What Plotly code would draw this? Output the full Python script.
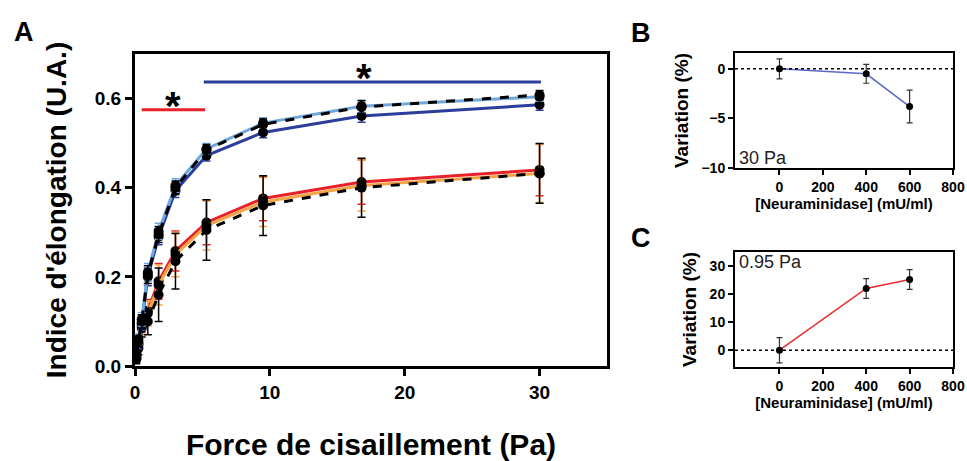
import plotly.graph_objects as go

# ---- data -------------------------------------------------------------
shear = [0.1, 0.25, 0.5, 0.95, 1.75, 3.0, 5.3, 9.5, 16.8, 30]

# blue group (control / 400 / 600 mU/ml)
blue_ctrl = [0.025, 0.055, 0.10, 0.205, 0.295, 0.400, 0.485, 0.542, 0.581, 0.608]
blue_ctrl_err = [0.01, 0.012, 0.015, 0.02, 0.018, 0.015, 0.012, 0.012, 0.014, 0.010]
blue_400 = [0.030, 0.060, 0.105, 0.210, 0.302, 0.405, 0.487, 0.545, 0.583, 0.604]
blue_400_err = [0.01, 0.012, 0.015, 0.02, 0.018, 0.015, 0.012, 0.012, 0.014, 0.010]
blue_600 = [0.025, 0.050, 0.095, 0.200, 0.290, 0.393, 0.472, 0.524, 0.561, 0.586]
blue_600_err = [0.01, 0.012, 0.015, 0.02, 0.018, 0.015, 0.012, 0.012, 0.014, 0.012]

# red group (control / 400 / 600 mU/ml)
red_ctrl = [0.015, 0.040, 0.085, 0.100, 0.160, 0.235, 0.305, 0.360, 0.400, 0.432]
red_ctrl_err = [0.01, 0.015, 0.02, 0.03, 0.060, 0.062, 0.068, 0.067, 0.066, 0.067]
red_400 = [0.018, 0.045, 0.090, 0.118, 0.182, 0.250, 0.315, 0.368, 0.405, 0.432]
red_400_err = [0.01, 0.013, 0.02, 0.028, 0.045, 0.050, 0.055, 0.055, 0.057, 0.065]
red_600 = [0.020, 0.050, 0.095, 0.124, 0.190, 0.258, 0.322, 0.376, 0.413, 0.440]
red_600_err = [0.01, 0.012, 0.02, 0.025, 0.040, 0.045, 0.050, 0.050, 0.050, 0.058]

# significance bars: [x0, x1], y
sig_red_x = [0.5, 5.2]
sig_red_y = 0.575
sig_blue_x = [5.1, 30.1]
sig_blue_y = 0.637

# panels B and C
neura = [0, 400, 600]
var_30 = [0, -0.5, -3.8]
var_30_err = [1.0, 0.95, 1.65]
var_095 = [0, 22.0, 25.2]
var_095_err = [4.5, 3.5, 3.5]

FONT = "Arial, Liberation Sans, sans-serif"
LIGHT_BLUE = "#6fa8dc"
DARK_BLUE = "#2c3e9c"
RED = "#e8202a"
ORANGE = "#f5a444"

W, H = 967, 461


def px(x):
    return x / W


def py(y):
    return 1 - y / H


fig = go.Figure()


def add_series(y, err, line_color, err_color, dash="solid"):
    fig.add_trace(
        go.Scatter(
            x=shear,
            y=y,
            mode="lines+markers",
            line=dict(color=line_color, width=3, dash=dash),
            marker=dict(color="black", size=10),
            error_y=dict(type="data", array=err, color=err_color, thickness=1.5, width=4),
            showlegend=False,
            xaxis="x",
            yaxis="y",
        )
    )


add_series(red_600, red_600_err, RED, RED)
add_series(red_400, red_400_err, ORANGE, ORANGE)
add_series(red_ctrl, red_ctrl_err, "black", "black", dash="dash")
add_series(blue_600, blue_600_err, DARK_BLUE, DARK_BLUE)
add_series(blue_400, blue_400_err, LIGHT_BLUE, LIGHT_BLUE)
add_series(blue_ctrl, blue_ctrl_err, "black", "black", dash="dash")

# significance lines
fig.add_trace(go.Scatter(x=sig_red_x, y=[sig_red_y] * 2, mode="lines",
                         line=dict(color=RED, width=3), showlegend=False))
fig.add_trace(go.Scatter(x=sig_blue_x, y=[sig_blue_y] * 2, mode="lines",
                         line=dict(color=DARK_BLUE, width=3), showlegend=False))
fig.add_annotation(x=sum(sig_red_x) / 2, y=sig_red_y, text="<b>*</b>", showarrow=False,
                   yanchor="bottom", font=dict(family=FONT, size=40, color="black"), yshift=-20)
fig.add_annotation(x=17, y=sig_blue_y, text="<b>*</b>", showarrow=False,
                   yanchor="bottom", font=dict(family=FONT, size=40, color="black"), yshift=-20)

# panel B
fig.add_trace(go.Scatter(
    x=neura, y=var_30, mode="lines+markers",
    line=dict(color="#5b68c8", width=1.5),
    marker=dict(color="black", size=7),
    error_y=dict(type="data", array=var_30_err, color="#333333", thickness=1.2, width=3),
    showlegend=False, xaxis="x2", yaxis="y2",
))
# panel C
fig.add_trace(go.Scatter(
    x=neura, y=var_095, mode="lines+markers",
    line=dict(color="#ee2a2a", width=1.5),
    marker=dict(color="black", size=7),
    error_y=dict(type="data", array=var_095_err, color="#333333", thickness=1.2, width=3),
    showlegend=False, xaxis="x3", yaxis="y3",
))

for xr, yr in (("x2", "y2"), ("x3", "y3")):
    fig.add_shape(type="line", xref=f"{xr} domain", yref=yr, x0=0, x1=1, y0=0, y1=0,
                  line=dict(color="black", width=1.5, dash="dot"))

fig.add_annotation(xref="x2 domain", yref="y2 domain", x=0.01, y=-0.02, text="30 Pa",
                   showarrow=False, xanchor="left", yanchor="bottom",
                   font=dict(family=FONT, size=18, color="#222222"))
fig.add_annotation(xref="x3 domain", yref="y3 domain", x=0.01, y=1.02, text="0.95 Pa",
                   showarrow=False, xanchor="left", yanchor="top",
                   font=dict(family=FONT, size=18, color="#222222"))

# panel letters
for txt, lx, ly in (("A", 24, 32), ("B", 641, 33), ("C", 641, 238)):
    fig.add_annotation(xref="paper", yref="paper", x=px(lx), y=py(ly),
                       xanchor="center", yanchor="middle",
                       text=f"<b>{txt}</b>", showarrow=False,
                       font=dict(family=FONT, size=27, color="black"))

axis_common = dict(showline=True, linecolor="black", mirror=True, ticks="outside",
                   tickcolor="black", showgrid=False, zeroline=False, automargin=False)
bold_big = dict(size=19, weight="bold")
bold_small = dict(size=14, weight="bold")

fig.update_layout(
    width=W,
    height=H,
    margin=dict(l=0, r=0, t=0, b=0),
    plot_bgcolor="white",
    paper_bgcolor="white",
    font=dict(family=FONT, color="black"),
    xaxis=dict(
        domain=[px(135), px(607)], range=[0, 35], tickvals=[0, 10, 20, 30],
        linewidth=3, tickwidth=3, ticklen=7, tickfont=bold_big,
        title=dict(text="<b>Force de cisaillement (Pa)</b>", font=dict(size=30), standoff=34),
        anchor="y", **axis_common,
    ),
    yaxis=dict(
        domain=[py(366), py(54)], range=[0, 0.7], tickvals=[0, 0.2, 0.4, 0.6],
        tickformat=".1f", linewidth=3, tickwidth=3, ticklen=7, tickfont=bold_big,
        title=dict(text="<b>Indice d'élongation (U.A.)</b>", font=dict(size=28), standoff=20),
        anchor="x", **axis_common,
    ),
    xaxis2=dict(
        domain=[px(735), px(953)], range=[-205, 800], tickvals=[0, 200, 400, 600, 800],
        linewidth=2, tickwidth=2, ticklen=5, tickfont=bold_small,
        title=dict(text="<b>[Neuraminidase] (mU/ml)</b>", font=dict(size=15), standoff=4),
        anchor="y2", **axis_common,
    ),
    yaxis2=dict(
        domain=[py(168), py(53)], range=[-10, 1.6], tickvals=[-10, -5, 0],
        linewidth=2, tickwidth=2, ticklen=5, tickfont=bold_small,
        title=dict(text="<b>Variation (%)</b>", font=dict(size=19), standoff=8),
        anchor="x2", **axis_common,
    ),
    xaxis3=dict(
        domain=[px(735), px(953)], range=[-205, 800], tickvals=[0, 200, 400, 600, 800],
        linewidth=2, tickwidth=2, ticklen=5, tickfont=bold_small,
        title=dict(text="<b>[Neuraminidase] (mU/ml)</b>", font=dict(size=15), standoff=4),
        anchor="y3", **axis_common,
    ),
    yaxis3=dict(
        domain=[py(367), py(252)], range=[-6, 35], tickvals=[0, 10, 20, 30],
        linewidth=2, tickwidth=2, ticklen=5, tickfont=bold_small,
        title=dict(text="<b>Variation (%)</b>", font=dict(size=19), standoff=8),
        anchor="x3", **axis_common,
    ),
)

# drop the browser's default body margin so the figure fills the window exactly
fig.write_html(
    "out.html",
    config={"displayModeBar": False},
    post_script="document.body.style.margin='0';document.body.style.overflow='hidden';",
)
